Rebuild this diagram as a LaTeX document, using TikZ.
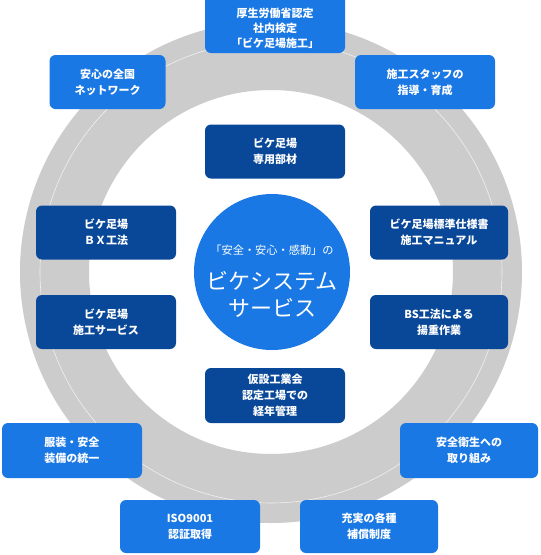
\documentclass[tikz,border=0pt]{standalone}
\usepackage{fontspec}
\setmainfont{Noto Sans CJK JP}
\definecolor{skyblue}{RGB}{26,120,228}
\definecolor{navyblue}{RGB}{9,72,152}
\definecolor{ringgray}{RGB}{204,204,204}

\begin{document}
\begin{tikzpicture}[x=1pt, y=-1pt,
  outerbox/.style={fill=skyblue, rounded corners=6pt, text=white, align=center,
    inner sep=0pt, font=\fontsize{11}{16}\selectfont\bfseries},
  innerbox/.style={fill=navyblue, rounded corners=6pt, text=white, align=center,
    inner sep=0pt, minimum width=140pt, minimum height=54pt, font=\fontsize{11}{16}\selectfont\bfseries}]
  % canvas
  \clip (0,0) rectangle (541,555);
  \fill[white] (0,0) rectangle (541,555);

  % ring
  \fill[ringgray, even odd rule] (271,272) circle (251) (271,272) circle (182);
  \draw[white, opacity=0.7, line width=0.6pt] (271,272) circle (231);

  % core
  \node (core) [circle, fill=skyblue, minimum size=156pt, inner sep=0pt] at (272,272) {};
  \node (slogan) [text=white, font=\fontsize{11.2}{14}\selectfont] at (272,250) {「安全・安心・感動」の};
  \node (title) [text=white, align=center, font=\fontsize{22}{27}\selectfont] at (272,294) {ビケシステム\\サービス};

  % inner boxes
  \node (parts)    [innerbox] at (275,151.5) {ビケ足場\\専用部材};
  \node (bxmethod) [innerbox] at (106,232.5) {ビケ足場\\ＢＸ工法};
  \node (manual)   [innerbox, minimum width=138pt] at (439,232.5) {ビケ足場標準仕様書\\施工マニュアル};
  \node (service)  [innerbox] at (106,322) {ビケ足場\\施工サービス};
  \node (lifting)  [innerbox, minimum width=138pt] at (439,322) {BS工法による\\揚重作業};
  \node (ageing)   [innerbox, minimum height=55pt] at (275,395.5) {仮設工業会\\認定工場での\\経年管理};

  % outer boxes
  \node (license)  [outerbox, minimum width=140pt, minimum height=63pt,
       font=\fontsize{11}{15}\selectfont\bfseries] at (275,21.5)
       {\mbox{}\\[9pt]厚生労働省認定\\社内検定\\「ビケ足場施工」};
  \node (network)  [outerbox, minimum width=116pt, minimum height=54pt] at (107.5,82) {安心の全国\\ネットワーク};
  \node (training) [outerbox, minimum width=140pt, minimum height=54pt] at (425,82) {施工スタッフの\\指導・育成};
  \node (uniform)  [outerbox, minimum width=140pt, minimum height=55pt] at (72,450.5) {服装・安全\\装備の統一};
  \node (health)   [outerbox, minimum width=138pt, minimum height=55pt] at (469,450.5) {安全衛生への\\取り組み};
  \node (iso)      [outerbox, minimum width=140pt, minimum height=53pt] at (190,526.5) {ISO9001\\認証取得};
  \node (welfare)  [outerbox, minimum width=138pt, minimum height=53pt] at (369,526.5) {充実の各種\\補償制度};
\end{tikzpicture}
\end{document}
